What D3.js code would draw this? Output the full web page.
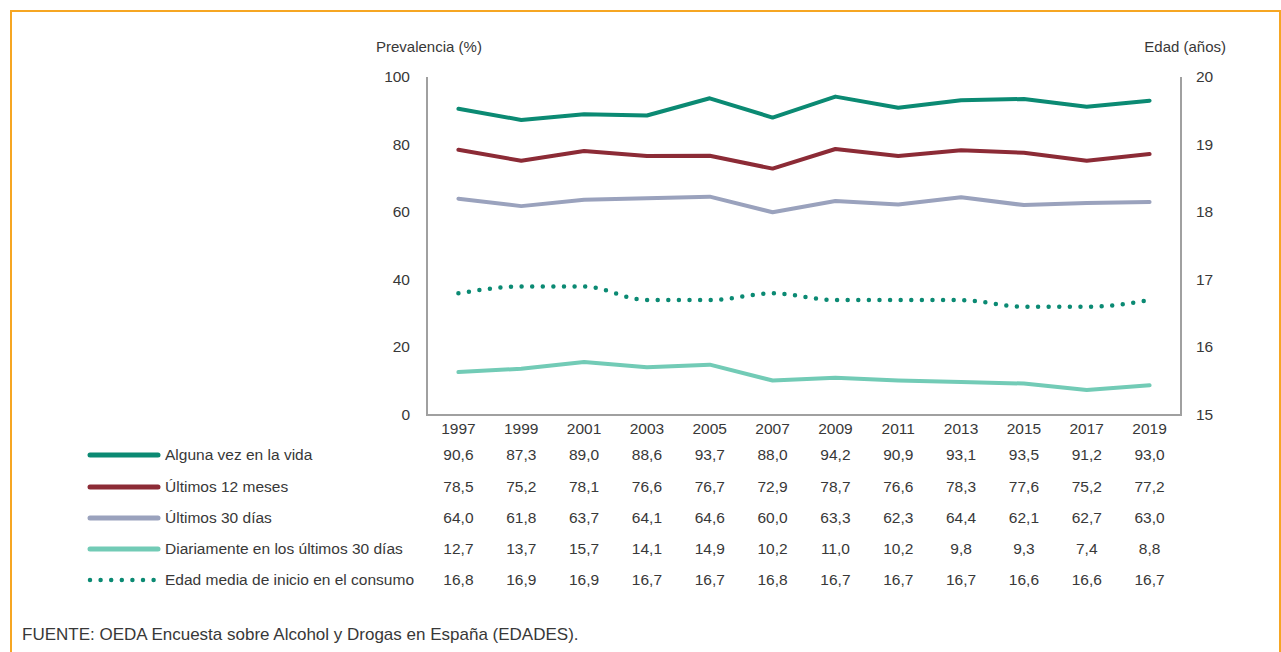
<!DOCTYPE html>
<html>
<head>
<meta charset="utf-8">
<script src="https://cdn.jsdelivr.net/npm/d3@7"></script>
<style>
  body { margin: 0; background: #fff; }
  svg { display: block; font-family: "Liberation Sans", Arial, sans-serif; }
</style>
</head>
<body>
<div class="chart"></div>
<script>
// data
const years = ["1997","1999","2001","2003","2005","2007","2009","2011","2013","2015","2017","2019"];
const algunaVez = [90.6,87.3,89.0,88.6,93.7,88.0,94.2,90.9,93.1,93.5,91.2,93.0];
const ultimos12 = [78.5,75.2,78.1,76.6,76.7,72.9,78.7,76.6,78.3,77.6,75.2,77.2];
const ultimos30 = [64.0,61.8,63.7,64.1,64.6,60.0,63.3,62.3,64.4,62.1,62.7,63.0];
const diariamente = [12.7,13.7,15.7,14.1,14.9,10.2,11.0,10.2,9.8,9.3,7.4,8.8];
const edadInicio = [16.8,16.9,16.9,16.7,16.7,16.8,16.7,16.7,16.7,16.6,16.6,16.7];
const leftTicks = [0,20,40,60,80,100];
const rightTicks = [15,16,17,18,19,20];

const w = 1281, h = 652;

const series = [
  {name: "Alguna vez en la vida", values: algunaVez, color: "#0b8a73", axis: "left"},
  {name: "Últimos 12 meses", values: ultimos12, color: "#8c2b36", axis: "left"},
  {name: "Últimos 30 días", values: ultimos30, color: "#9aa2bd", axis: "left"},
  {name: "Diariamente en los últimos 30 días", values: diariamente, color: "#72cbb6", axis: "left"},
  {name: "Edad media de inicio en el consumo", values: edadInicio, color: "#0b8a73", axis: "right", dotted: true}
];

const svg = d3.select(".chart").append("svg")
  .attr("width", w).attr("height", h);

// orange frame
svg.append("rect")
  .attr("x", 11).attr("y", 11)
  .attr("width", w - 12).attr("height", h + 20)
  .attr("fill", "none").attr("stroke", "#f6a623").attr("stroke-width", 2);

const plotL = 427, plotR = 1181, plotT = 77, plotB = 415;

const x = d3.scalePoint().domain(years).range([plotL, plotR]).padding(0.5);
const yL = d3.scaleLinear().domain([0, 100]).range([plotB, plotT]);
const yR = d3.scaleLinear().domain([15, 20]).range([plotB, plotT]);

// axes lines
const axisColor = "#a0a0a0";
svg.append("path")
  .attr("d", `M${plotL},${plotT}V${plotB}H${plotR}V${plotT}`)
  .attr("fill", "none").attr("stroke", axisColor).attr("stroke-width", 2);

const txt = "#383838";
svg.append("g").selectAll("text").data(leftTicks).join("text")
  .attr("x", 410).attr("y", d => yL(d) + 5)
  .attr("text-anchor", "end").attr("font-size", 15.5).attr("fill", txt)
  .text(d => d);

svg.append("g").selectAll("text").data(rightTicks).join("text")
  .attr("x", 1196).attr("y", d => yR(d) + 5)
  .attr("font-size", 15.5).attr("fill", txt)
  .text(d => d);

svg.append("text").attr("x", 376).attr("y", 52)
  .attr("font-size", 15).attr("fill", txt).text("Prevalencia (%)");
svg.append("text").attr("x", 1226).attr("y", 52).attr("text-anchor", "end")
  .attr("font-size", 15).attr("fill", txt).text("Edad (años)");

svg.append("g").selectAll("text").data(years).join("text")
  .attr("x", d => x(d)).attr("y", 434)
  .attr("text-anchor", "middle").attr("font-size", 15.5).attr("fill", txt)
  .text(d => d);

// lines
series.forEach(s => {
  const yS = s.axis === "left" ? yL : yR;
  const line = d3.line()
    .x((d, i) => x(years[i]))
    .y(d => yS(d))
    .curve(s.dotted ? d3.curveMonotoneX : d3.curveLinear);
  const p = svg.append("path")
    .datum(s.values)
    .attr("d", line)
    .attr("fill", "none")
    .attr("stroke", s.color);
  if (s.dotted) {
    p.attr("stroke-width", 4.5).attr("stroke-linecap", "round")
     .attr("stroke-dasharray", "0,10.6");
  } else {
    p.attr("stroke-width", 4).attr("stroke-linejoin", "round").attr("stroke-linecap", "round");
  }
});

// data table with legend
const rowY = [455, 487, 518, 549, 580];
series.forEach((s, r) => {
  const g = svg.append("g");
  const ly = rowY[r];
  const key = g.append("line")
    .attr("x1", 90).attr("x2", 158).attr("y1", ly).attr("y2", ly)
    .attr("stroke", s.color).attr("stroke-linecap", "round");
  if (s.dotted) {
    key.attr("stroke-width", 4.5).attr("stroke-dasharray", "0,10.6");
  } else {
    key.attr("stroke-width", 5);
  }
  g.append("text").attr("x", 165).attr("y", ly + 5)
    .attr("font-size", 15.5).attr("fill", txt).text(s.name);
  g.selectAll("text.v").data(s.values).join("text")
    .attr("class", "v")
    .attr("x", (d, i) => x(years[i])).attr("y", ly + 5)
    .attr("text-anchor", "middle").attr("font-size", 15.5).attr("fill", txt)
    .text(d => d.toFixed(1).replace(".", ","));
});

svg.append("text").attr("x", 22).attr("y", 640)
  .attr("font-size", 17).attr("fill", txt)
  .text("FUENTE: OEDA Encuesta sobre Alcohol y Drogas en España (EDADES).");
</script>
</body>
</html>
